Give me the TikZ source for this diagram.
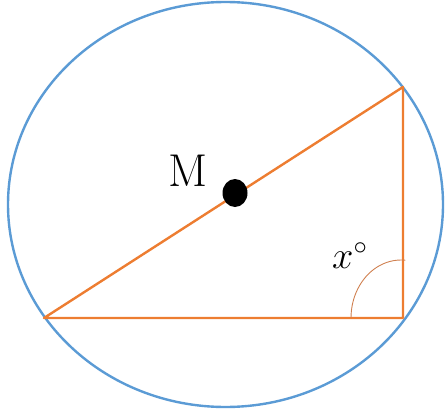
\documentclass[tikz,border=0pt]{standalone}
\usepackage{graphicx}
\usepackage{amsmath,amssymb}
\usetikzlibrary{calc,shapes.geometric}
\definecolor{circ}{HTML}{5B9BD5}
\definecolor{tri}{HTML}{ED7D31}
\definecolor{angarc}{HTML}{D08050}
\tikzset{
  rim/.style={draw=circ, line width=2.4pt},
  side/.style={draw=tri, line width=2.4pt, line join=round},
  anglemark/.style={draw=angarc, line width=0.9pt},
  centredot/.style={ellipse, fill=black, inner sep=0pt, minimum width=25pt, minimum height=28pt},
  biglabel/.style={font=\fontsize{46}{50}\selectfont, inner sep=0pt},
}

\begin{document}
\begin{tikzpicture}[x=1pt, y=-1pt]
\useasboundingbox (0,0) rectangle (446,414);

% Circle and the triangle in it.
\coordinate (O) at (225.5,204.5);
\draw[rim] (O) ellipse[x radius=217.5, y radius=202.5];

\coordinate (A) at (44,318);
\coordinate (B) at (403,87);
\coordinate (C) at (403,318);
\draw[side] (A) -- (B) -- (C) -- cycle;

% Centre M.
\node[centredot] (M) at (235,193) {};
\node[biglabel] (Mlabel) at (188,171) {M};

% Angle at C.
\draw[anglemark] ($(C)+(-52,0)$) arc[start angle=180, end angle=275, x radius=50, y radius=58];
\node[inner sep=0pt] (xlabel) at (350,256) {\scalebox{1.85}{\huge$x^{\circ}$}};

\end{tikzpicture}
\end{document}
